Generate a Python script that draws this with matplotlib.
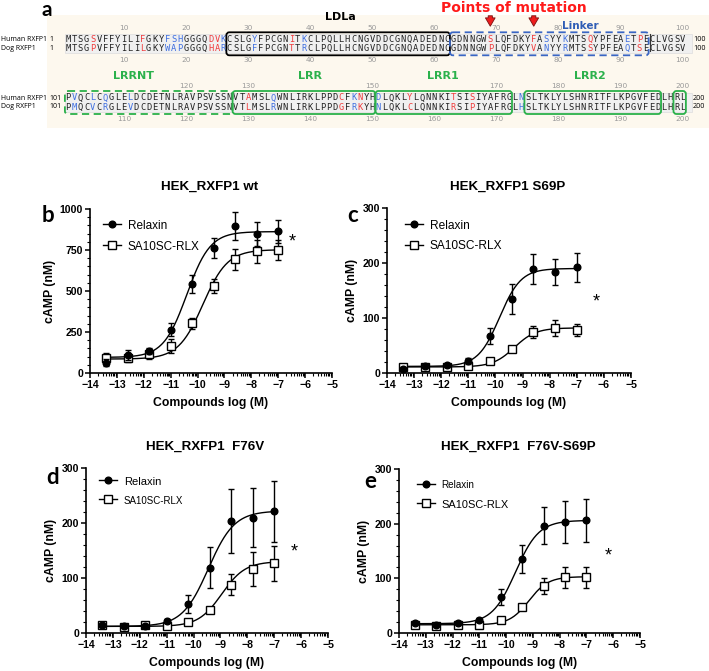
import numpy as np
import matplotlib.pyplot as plt
from matplotlib.patches import Rectangle, FancyBboxPatch
from matplotlib.lines import Line2D
from matplotlib.ticker import MultipleLocator, FixedLocator

# ---- panel a: alignment data ----
human_seq = ("MTSGSVFFYILIFGKYFSHGGGQDVKCSLGYFPCGNITKCLPQLLHCNGVDDCGNQADEDNCGDNNGWSLQFDKYFASYYKMTSQYPFEAETPECLVGSV"
             "PVQCLCQGLELDCDETNLRAVPSVSSNVTAMSLQWNLIRKLPPDCFKNYHDLQKLYLQNNKITSISIYAFRGLNSLTKLYLSHNRITFLKPGVFEDLHRL")
dog_seq = ("MTSGPVFFYILILGKYWAPGGGQHARCSLGFFPCGNTTRCLPQLLHCNGVDDCGNQADEDNCGDNNGWPLQFDKYVANYYRMTSSYPFEAQTSECLVGSV"
           "PMQCVCRGLEVDCDETNLRAVPSVSSNVTLMSLRWNLIRKLPPDGFRKYHNLQKLCLQNNKIRSIPIYAFRGLHSLTKLYLSHNRITFLKPGVFEDLHRL")
# differing positions drawn blue (similar residues); other differences red
blue_pos = [17, 18, 19, 26, 31, 39, 78, 81, 91, 102, 105, 107, 111, 134, 147, 151, 174]
mutation_pos = [69, 76]
# domains: (label, first, last, colour, dashed)
domains = [("LDLa", 27, 62, "black", False), ("Linker", 63, 94, "#3a66c4", True),
           ("LRRNT", 101, 127, "#2bb14b", True), ("LRR", 128, 150, "#2bb14b", False),
           ("LRR1", 151, 172, "#2bb14b", False), ("LRR2", 175, 196, "#2bb14b", False),
           ("", 199, 200, "#2bb14b", False)]
label_pos = {"LDLa": 44.8, "Linker": 83.5, "LRRNT": 111.6, "LRR": 140, "LRR1": 161.4, "LRR2": 185}
top_numbers = [10, 20, 30, 40, 50, 60, 70, 80, 90, 100, 120, 130, 150, 170, 180, 190, 200]
bottom_numbers = list(range(10, 201, 10))

# ---- panels b-e: cAMP dose response ----
log_dose = [-13.4, -12.6, -11.8, -11.0, -10.2, -9.4, -8.6, -7.8, -7.0]

wt_relaxin = [63, 112, 135, 265, 541, 761, 894, 847, 863]
wt_relaxin_sem = [20, 30, 20, 40, 55, 60, 85, 75, 70]
wt_sa10 = [92, 92, 114, 165, 302, 531, 694, 741, 751]
wt_sa10_sem = [30, 25, 30, 45, 35, 45, 65, 70, 60]

s69p_relaxin = [8, 13, 14, 22, 67, 135, 189, 184, 192]
s69p_relaxin_sem = [3, 4, 3, 5, 15, 27, 27, 24, 27]
s69p_sa10 = [11, 11, 11, 13, 22, 44, 74, 82, 79]
s69p_sa10_sem = [3, 3, 3, 4, 4, 5, 11, 15, 11]

f76v_relaxin = [14, 12, 13, 22, 53, 119, 203, 210, 221]
f76v_relaxin_sem = [3, 3, 3, 4, 17, 38, 58, 54, 55]
f76v_sa10 = [14, 11, 14, 12, 20, 42, 88, 116, 127]
f76v_sa10_sem = [3, 3, 3, 3, 4, 5, 19, 31, 32]

dbl_relaxin = [19, 15, 19, 24, 66, 135, 196, 203, 206]
dbl_relaxin_sem = [3, 3, 3, 4, 14, 26, 34, 39, 40]
dbl_sa10 = [14, 13, 14, 15, 23, 48, 86, 102, 102]
dbl_sa10_sem = [3, 3, 3, 3, 4, 4, 15, 19, 19]

# 4PL fit parameters: bottom, top, logEC50, hill
wt_relaxin_fit = [95, 862, -10.4, 1.0]
wt_sa10_fit = [85, 752, -9.8, 0.95]
s69p_relaxin_fit = [12, 190, -9.85, 1.1]
s69p_sa10_fit = [11, 82, -9.3, 1.1]
f76v_relaxin_fit = [12, 222, -9.45, 0.9]
f76v_sa10_fit = [12, 130, -8.95, 1.0]
dbl_relaxin_fit = [17, 206, -9.65, 1.0]
dbl_sa10_fit = [15, 103, -9.15, 1.2]

W, H = 709, 671
fig = plt.figure(figsize=(W / 100, H / 100), dpi=100)

# ---------------- panel a ----------------
AH = 130
ax = fig.add_axes([0, 1 - AH / H, 1, AH / H])
ax.set_xlim(0, W)
ax.set_ylim(AH, 0)
ax.axis("off")

x0, dx = 68.0, 6.21
row_y = [39.3, 98.0]


def px(p):
    return x0 + ((p - 1) % 100) * dx


ax.add_patch(Rectangle((47, 15), W - 47, 113, fc="#fdf8ee", ec="none", zorder=0))
for ry in row_y:
    ax.add_patch(Rectangle((65, ry - 5), 627, 18.5, fc="#f0f0f0", ec="#dddddd", lw=0.5, zorder=1))

ax.text(47, 10, "a", fontsize=15, fontweight="bold", family="Lato", ha="center", va="center")

for r, ry in enumerate(row_y):
    start = 1 + 100 * r
    ax.text(1, ry, "Human RXFP1", fontsize=5.0, va="center", family="Open Sans")
    ax.text(1, ry + 9, "Dog RXFP1", fontsize=5.0, va="center", family="Open Sans")
    ax.text(49.5, ry, str(start), fontsize=5.0, va="center", family="Open Sans")
    ax.text(49.5, ry + 9, str(start), fontsize=5.0, va="center", family="Open Sans")
    ax.text(693, ry, str(start + 99), fontsize=5.2, va="center", family="Open Sans")
    ax.text(693, ry + 9, str(start + 99), fontsize=5.2, va="center", family="Open Sans")

for i, (h, d) in enumerate(zip(human_seq, dog_seq)):
    pos = i + 1
    ry = row_y[i // 100]
    if h == d:
        col = "#222222"
    elif pos in blue_pos:
        col = "#3f6fe0"
    else:
        col = "#f03c3c"
    ax.text(px(pos), ry, h, fontsize=6.3, family="DejaVu Sans Mono", color=col,
            ha="center", va="center", zorder=3)
    ax.text(px(pos), ry + 9, d, fontsize=6.3, family="DejaVu Sans Mono", color=col,
            ha="center", va="center", zorder=3)

for n in top_numbers:
    ry = row_y[(n - 1) // 100]
    ax.text(px(n), ry - 11.5, str(n), fontsize=5.3, color="#999999", ha="center", va="center")
for n in bottom_numbers:
    ry = row_y[(n - 1) // 100]
    ax.text(px(n), ry + 21, str(n), fontsize=5.3, color="#999999", ha="center", va="center")

for name, p0, p1, col, dashed in domains:
    ry = row_y[(p0 - 1) // 100]
    left = px(p0) - dx / 2
    right = px(p1) + dx / 2
    box = FancyBboxPatch((left, ry - 7), right - left, 23,
                         boxstyle="round,pad=0,rounding_size=3",
                         fc="none", ec=col, lw=1.3, ls=(0, (4, 2.5)) if dashed else "-", zorder=4)
    ax.add_patch(box)
    if name:
        lx = x0 + ((label_pos[name] - 1) % 100) * dx
        ly = ry - 22 if name != "Linker" else ry - 13.5
        ax.text(lx, ly, name, fontsize=8 if name != "Linker" else 7.5, fontweight="bold",
                color=col if name != "Linker" else "#2f5db5", ha="center", va="center", zorder=5)
# small end mark of the linker
ax.plot([px(94) + dx / 2 + 1] * 2, [row_y[0] - 5, row_y[0] + 12], color="#333333", lw=0.8, zorder=4)

ax.text(514, 7.5, "Points of mutation", fontsize=10, fontweight="bold", color="#ff1a1a",
        ha="center", va="center")
for p in mutation_pos:
    ax.annotate("", xy=(px(p), 29), xytext=(px(p), 13),
                arrowprops=dict(arrowstyle="simple,head_width=0.7,head_length=0.6,tail_width=0.3",
                                fc="#ee1c1c", ec="#7a1010", lw=0.6), zorder=6)

# ---------------- panels b-e ----------------
plt.rcParams["font.family"] = ["Liberation Sans", "DejaVu Sans"]


def curve(fit, x):
    bottom, top, ec50, hill = fit
    return bottom + (top - bottom) / (1 + 10 ** ((ec50 - x) * hill))


def panel(rect, relaxin, relaxin_sem, sa10, sa10_sem, fit_r, fit_s, ymax, ymajor, yminor,
          title, title_xy, letter, letter_xy, star_xy, leg_anchor, leg_sizes):
    ax = fig.add_axes(rect)
    xs = np.linspace(log_dose[0], log_dose[-1], 200)
    ax.plot(xs, curve(fit_r, xs), color="black", lw=1.0, zorder=2)
    ax.plot(xs, curve(fit_s, xs), color="black", lw=1.0, zorder=2)
    ax.errorbar(log_dose, relaxin, yerr=relaxin_sem, fmt="o", color="black", ms=4.8,
                capsize=2.5, elinewidth=1, capthick=1, zorder=4)
    ax.errorbar(log_dose, sa10, yerr=sa10_sem, fmt="s", color="black", mfc="white", ms=5.2,
                mew=1, capsize=2.5, elinewidth=1, capthick=1, zorder=3)
    ax.set_xlim(-14, -5)
    ax.set_ylim(0, ymax)
    ax.xaxis.set_major_locator(MultipleLocator(1))
    minors = [k + np.log10(m) for k in range(-14, -5) for m in range(2, 10)]
    ax.xaxis.set_minor_locator(FixedLocator(minors))
    ax.yaxis.set_major_locator(MultipleLocator(ymajor))
    ax.yaxis.set_minor_locator(MultipleLocator(yminor))
    for s in ["top", "right"]:
        ax.spines[s].set_visible(False)
    for s in ["left", "bottom"]:
        ax.spines[s].set_linewidth(1.2)
    ax.tick_params(which="major", length=3.5, width=1.1, labelsize=7.6, pad=1.5)
    ax.tick_params(which="minor", length=2, width=0.8)
    for lab in ax.get_xticklabels() + ax.get_yticklabels():
        lab.set_fontweight("bold")
    ax.set_xlabel("Compounds log (M)", fontsize=8.8, fontweight="bold", labelpad=5)
    ax.set_ylabel("cAMP (nM)", fontsize=8.8, fontweight="bold", labelpad=3)
    ax.text(star_xy[0], star_xy[1], "*", fontsize=13, ha="center", va="center")
    handles = [Line2D([], [], color="black", marker="o", ms=4.8, lw=1),
               Line2D([], [], color="black", marker="s", mfc="white", ms=5.2, lw=1)]
    leg = ax.legend(handles, ["Relaxin", "SA10SC-RLX"], loc="upper left",
                    bbox_to_anchor=leg_anchor, frameon=False, handlelength=1.3,
                    handletextpad=0.5, labelspacing=0.55, borderaxespad=0)
    for t, fs in zip(leg.get_texts(), leg_sizes):
        t.set_fontsize(fs)
    fig.text(title_xy[0] / W, 1 - title_xy[1] / H, title, fontsize=9.6, fontweight="bold",
             ha="center", va="center")
    fig.text(letter_xy[0] / W, 1 - letter_xy[1] / H, letter, fontsize=16, fontweight="bold",
             family="Lato", ha="center", va="center")
    return ax


panel([90 / W, 1 - 373 / H, 242 / W, 164 / H], wt_relaxin, wt_relaxin_sem, wt_sa10, wt_sa10_sem,
      wt_relaxin_fit, wt_sa10_fit, 1000, 250, 50, "HEK_RXFP1 wt", (210, 187), "b", (48, 216),
      (-6.48, 800), (0.03, 0.97), (8.5, 8.5))
panel([387 / W, 1 - 373 / H, 244 / W, 165 / H], s69p_relaxin, s69p_relaxin_sem, s69p_sa10, s69p_sa10_sem,
      s69p_relaxin_fit, s69p_sa10_fit, 300, 100, 20, "HEK_RXFP1 S69P", (508, 187), "c", (353, 216),
      (-6.3, 130), (0.05, 0.965), (8.6, 8.6))
panel([86 / W, 1 - 633 / H, 242 / W, 165 / H], f76v_relaxin, f76v_relaxin_sem, f76v_sa10, f76v_sa10_sem,
      f76v_relaxin_fit, f76v_sa10_fit, 300, 100, 20, "HEK_RXFP1  F76V", (205, 447), "d", (53, 478),
      (-6.24, 148), (0.03, 0.99), (8.0, 7.0))
panel([399 / W, 1 - 633 / H, 241 / W, 164 / H], dbl_relaxin, dbl_relaxin_sem, dbl_sa10, dbl_sa10_sem,
      dbl_relaxin_fit, dbl_sa10_fit, 300, 100, 20, "HEK_RXFP1  F76V-S69P", (518, 447), "e", (370, 481),
      (-6.19, 141), (0.05, 0.975), (7.1, 7.9))

fig.savefig("out.png", dpi=100)
